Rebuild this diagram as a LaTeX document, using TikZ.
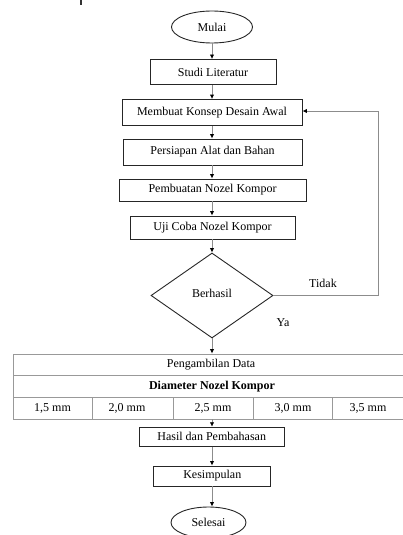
\documentclass[tikz,border=0pt]{standalone}
\usepackage{fontspec}
\setmainfont{Liberation Serif}
\usetikzlibrary{shapes.geometric,arrows.meta}
\tikzset{
  txt/.style={font=\fontsize{12}{14}\selectfont},
  stepbox/.style={draw=black!85, line width=0.9pt, rectangle, inner sep=0pt, txt},
  term/.style={draw=black!85, line width=0.9pt, ellipse, inner sep=0pt, txt},
  decision/.style={draw=black!85, line width=0.9pt, diamond, inner sep=0pt, aspect=1.435, txt},
  conn/.style={draw=black!45, line width=0.9pt, -{Latex[length=4.5pt,width=4.5pt,color=black]}},
  tab/.style={draw=black!40, line width=0.9pt},
  lbl/.style={txt}
}
\begin{document}
\begin{tikzpicture}[x=1pt,y=-1pt]
\useasboundingbox (0,0) rectangle (403,535);
\clip (0,0) rectangle (403,535);
\fill[black!80] (80.3,0) rectangle (82,5);
\node[term, minimum width=81pt, minimum height=32pt] (mulai) at (212,27) {Mulai};
\node[stepbox, minimum width=126pt, minimum height=25pt] (studi) at (213,72) {Studi Literatur};
\node[stepbox, minimum width=180pt, minimum height=26pt] (konsep) at (212,112.5) {Membuat Konsep Desain Awal};
\node[stepbox, minimum width=179pt, minimum height=26pt] (persiapan) at (212.5,152) {Persiapan Alat dan Bahan};
\node[stepbox, minimum width=187pt, minimum height=22pt] (pembuatan) at (212.5,190) {Pembuatan Nozel Kompor};
\node[stepbox, minimum width=165pt, minimum height=23pt] (uji) at (212.5,227.5) {Uji Coba Nozel Kompor};
\node[decision, minimum width=122pt, minimum height=85pt] (dia) at (212,295.5) {};
\node[lbl] (berhasil) at (212,293) {Berhasil};
\node[lbl] (tidak) at (323,283) {Tidak};
\node[lbl] (ya) at (283,323) {Ya};
% table
\node[tab, rectangle, inner sep=0pt, minimum width=400pt, minimum height=65pt] (tabel) at (213,386.5) {};
\draw[tab] (13,375.5) -- (413,375.5);
\draw[tab] (13,397) -- (413,397);
\foreach \xx in {92,173,253,332} \draw[tab] (\xx,397) -- (\xx,419);
\node[txt] (peng) at (211,365) {Pengambilan Data};
\node[txt, font=\fontsize{12}{14}\selectfont\bfseries] (diam) at (212,386.5) {Diameter Nozel Kompor};
\node[txt] (c1) at (52.5,408) {1,5 mm};
\node[txt] (c2) at (127,408) {2,0 mm};
\node[txt] (c3) at (213,408) {2,5 mm};
\node[txt] (c4) at (293,408) {3,0 mm};
\node[txt] (c5) at (368,408) {3,5 mm};
\node[stepbox, minimum width=145pt, minimum height=19pt] (hasil) at (211.7,436.7) {Hasil dan Pembahasan};
\node[stepbox, minimum width=117pt, minimum height=20pt] (kes) at (212.3,476) {Kesimpulan};
\node[term, minimum width=75pt, minimum height=31pt] (selesai) at (208.5,522.5) {Selesai};
\coordinate (fb) at (378,295.5);
% connectors
\draw[conn] (mulai.south -| 212,0) -- (studi.north -| 212,0);
\draw[conn] (studi.south -| 212,0) -- (konsep.north -| 212,0);
\draw[conn] (konsep.south -| 212,0) -- (persiapan.north -| 212,0);
\draw[conn] (persiapan.south -| 212,0) -- (pembuatan.north -| 212,0);
\draw[conn] (pembuatan.south -| 212,0) -- (uji.north -| 212,0);
\draw[conn] (uji.south -| 212,0) -- (dia.north);
\draw[conn] (dia.south) -- (dia.south |- tabel.north);
\draw[conn] (tabel.south -| 212,0) -- (hasil.north -| 212,0);
\draw[conn] (hasil.south -| 212,0) -- (kes.north -| 212,0);
\draw[conn] (kes.south -| 212,0) -- (selesai.north -| 212,0);
\draw[conn] (dia.east) -- (fb) |- ([yshift=1.5pt]konsep.east);
\end{tikzpicture}
\end{document}
